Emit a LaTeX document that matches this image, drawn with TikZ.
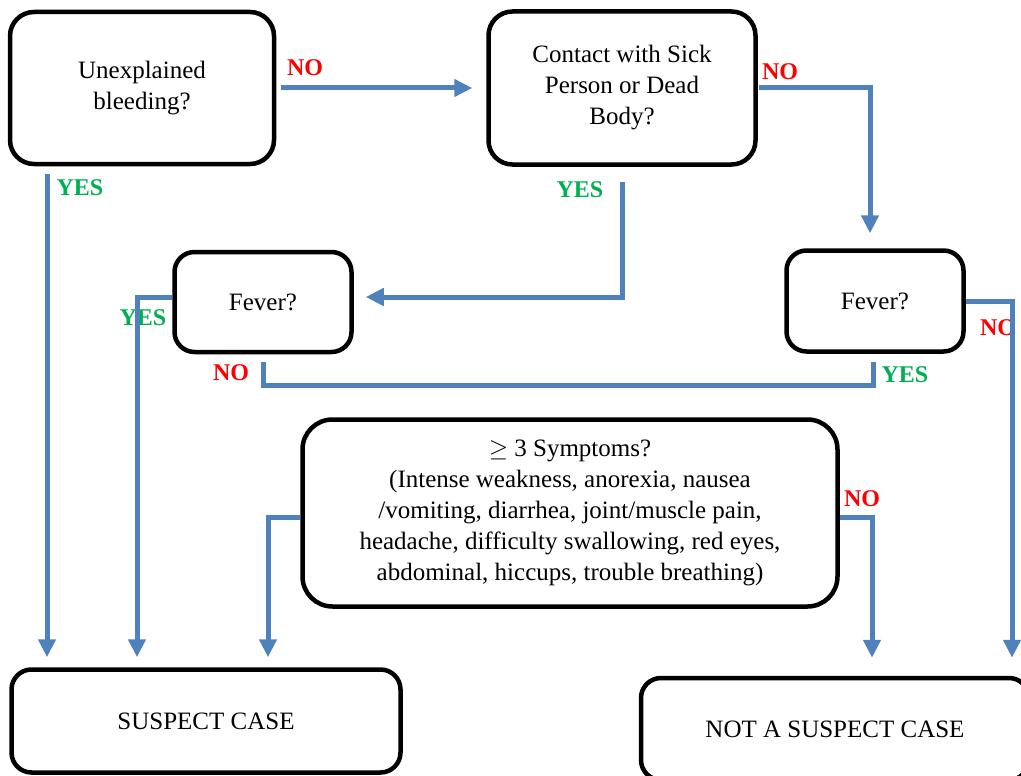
\documentclass[tikz,border=0pt]{standalone}
\usepackage{fontspec}
\setmainfont{Liberation Serif}
\usetikzlibrary{arrows.meta}
\pgfdeclarelayer{edgelayer}
\pgfdeclarelayer{nodelayer}
\pgfsetlayers{edgelayer,nodelayer,main}
\definecolor{flowblue}{RGB}{79,129,189}
\definecolor{yesgreen}{RGB}{0,176,80}
\definecolor{nored}{RGB}{255,0,0}
\tikzstyle{question}=[rectangle,rounded corners=24pt,draw=black,line width=4.5pt,fill=white,align=center,inner sep=0pt,font=\fontsize{25}{31}\selectfont]
\tikzstyle{yes_label}=[text=yesgreen,inner sep=0pt,font=\bfseries\fontsize{24}{24}\selectfont]
\tikzstyle{no_label}=[text=nored,inner sep=0pt,font=\bfseries\fontsize{24}{24}\selectfont]
\tikzstyle{flow}=[draw=flowblue,line width=5pt]
\tikzstyle{flow_arrow}=[flow,-{Triangle[length=18pt,width=17pt]}]

\begin{document}
\begin{tikzpicture}[x=1pt,y=-1pt]
	\useasboundingbox (0,0) rectangle (1021,776);
	\begin{pgfonlayer}{nodelayer}
		\node [style=question, minimum width=264, minimum height=152] (0) at (142, 88) {Unexplained\\bleeding?};
		\node [style=question, minimum width=267, minimum height=153] (1) at (622, 88) {Contact with Sick\\Person or Dead\\Body?};
		\node [style=question, minimum width=177, minimum height=100, rounded corners=20pt] (2) at (263, 302) {Fever?};
		\node [style=question, minimum width=177, minimum height=101, rounded corners=20pt] (3) at (875, 301) {Fever?};
		\node [style=question, minimum width=535, minimum height=187, rounded corners=30pt] (4) at (570, 513) {$\geq$ 3 Symptoms?\\(Intense weakness, anorexia, nausea\\/vomiting, diarrhea, joint/muscle pain,\\headache, difficulty swallowing, red eyes,\\abdominal, hiccups, trouble breathing)};
		\node [style=question, minimum width=389, minimum height=103, rounded corners=20pt] (5) at (206, 721) {SUSPECT CASE};
		\node [style=question, minimum width=388, minimum height=102, rounded corners=20pt] (6) at (835, 729) {NOT A SUSPECT CASE};
	\end{pgfonlayer}
	\begin{pgfonlayer}{edgelayer}
		\node [style=no_label] (7) at (305, 68) {NO};
		\node [style=no_label] (8) at (780, 72) {NO};
		\node [style=yes_label] (9) at (80, 188) {YES};
		\node [style=yes_label] (10) at (580, 190) {YES};
		\node [style=yes_label] (11) at (143, 318) {YES};
		\node [style=no_label] (12) at (231, 373) {NO};
		\node [style=yes_label] (13) at (905, 375) {YES};
		\node [style=no_label] (14) at (998, 328) {NO};
		\node [style=no_label] (15) at (862, 499) {NO};
		\draw [style=flow_arrow, shorten <=5pt, shorten >=14pt] (0.east) -- (1.west);
		\draw [style=flow_arrow, shorten <=1pt, shorten >=15pt] (1.east) -| ([xshift=-5pt]3.north);
		\draw [style=flow_arrow, shorten <=8pt, shorten >=10pt] ([xshift=39.25pt]0.south west) -- ([xshift=37.75pt]5.north west);
		\draw [style=flow_arrow, shorten <=15pt, shorten >=12pt] (1.south) |- ([yshift=5pt]2.east);
		\draw [style=flow_arrow, shorten >=10pt] ([yshift=5pt]2.west) -| ([xshift=127.75pt]5.north west);
		\draw [style=flow, shorten <=8pt, shorten >=8pt] ([xshift=-2pt]3.south) -- ++(0, 32) -| (2.south);
		\draw [style=flow_arrow, shorten >=18pt] (3.east) -| ([xshift=-19.25pt]6.north east);
		\draw [style=flow_arrow, shorten >=10pt] ([yshift=-4pt]4.west) -| ([xshift=258.75pt]5.north west);
		\draw [style=flow_arrow, shorten >=18pt] ([yshift=-4pt]4.east) -| ([xshift=233.25pt]6.north west);
	\end{pgfonlayer}
\end{tikzpicture}
\end{document}
